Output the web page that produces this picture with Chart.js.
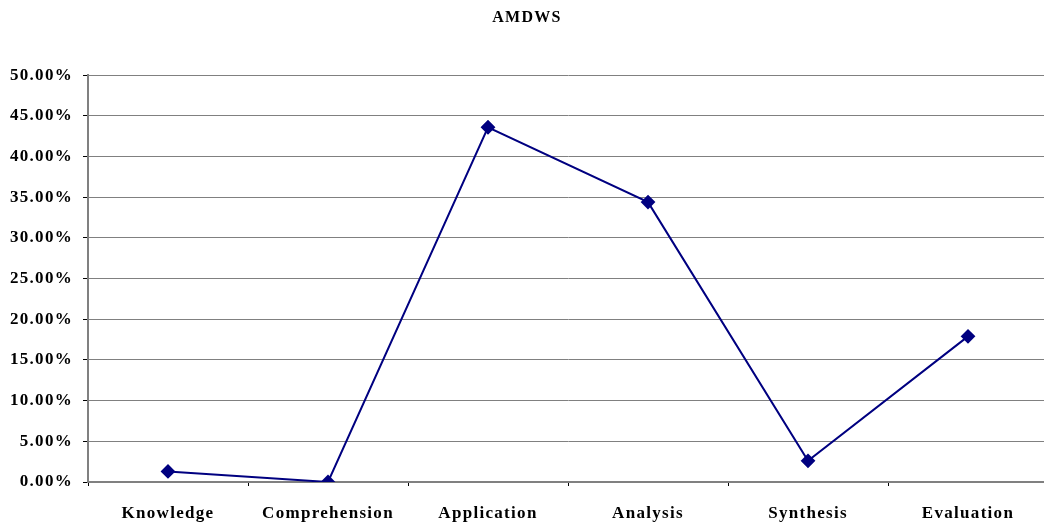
<!DOCTYPE html>
<html>
<head>
<meta charset="utf-8">
<script src="https://cdn.jsdelivr.net/npm/chart.js@4"></script>
<style>
  html, body { margin:0; padding:0; background:#fff; overflow:hidden; }
  #wrap { position:relative; width:1056px; height:529px; }
</style>
</head>
<body>
<div id="wrap"><canvas id="chartAmdws"></canvas></div>
<script>
// ==================== Data ====================
const kategori = ['Knowledge', 'Comprehension', 'Application', 'Analysis', 'Synthesis', 'Evaluation'];
const nilaiAmdws = [1.3, 0, 43.6, 34.4, 2.6, 17.9];
const judul = 'AMDWS';
const yMin = 0, yMax = 50, yStep = 5;

const fontSerif = "'Liberation Serif', 'Times New Roman', serif";

// wider letter spacing, like the old Excel rendering
const spasiHuruf = {
  id: 'spasiHuruf',
  beforeUpdate(c) { c.ctx.letterSpacing = '1.3px'; },
  beforeDraw(c) { c.ctx.letterSpacing = '1.3px'; }
};

// ==================== Chart ====================
const ctx = document.getElementById('chartAmdws').getContext('2d');
const chart = new Chart(ctx, {
  type: 'line',
  data: {
    labels: kategori,
    datasets: [{
      label: judul,
      data: nilaiAmdws,
      borderColor: '#000080',
      backgroundColor: '#000080',
      borderWidth: 2,
      pointStyle: 'rectRot',
      pointRadius: 6,
      pointHoverRadius: 6,
      tension: 0
    }]
  },
  plugins: [spasiHuruf],
  options: {
    responsive: true,
    maintainAspectRatio: false,
    animation: false,
    layout: { padding: { left: 0, right: 2, top: 0, bottom: 0 } },
    plugins: {
      legend: { display: false },
      tooltip: { enabled: false },
      title: {
        display: true,
        text: judul,
        color: '#000',
        font: { family: fontSerif, size: 16, weight: 'bold' },
        padding: { top: 8, bottom: 48 }
      }
    },
    scales: {
      x: {
        offset: true,
        grid: { display: true, drawOnChartArea: false, offset: true, color: '#000', tickLength: 4 },
        border: { display: true, color: '#808080', width: 2 },
        ticks: {
          color: '#000',
          padding: 17,
          maxRotation: 0,
          font: { family: fontSerif, size: 17, weight: 'bold' }
        },
        afterFit: s => { s.height = 47; }
      },
      y: {
        min: yMin,
        max: yMax,
        ticks: {
          stepSize: yStep,
          color: '#000',
          padding: 10,
          font: { family: fontSerif, size: 17, weight: 'bold' },
          callback: v => v.toFixed(2) + '%'
        },
        grid: { color: '#808080', lineWidth: 1, tickLength: 5, tickColor: '#000' },
        border: { display: true, color: '#808080', width: 2 },
        afterFit: s => { s.width = 88; }
      }
    }
  }
});
</script>
</body>
</html>
